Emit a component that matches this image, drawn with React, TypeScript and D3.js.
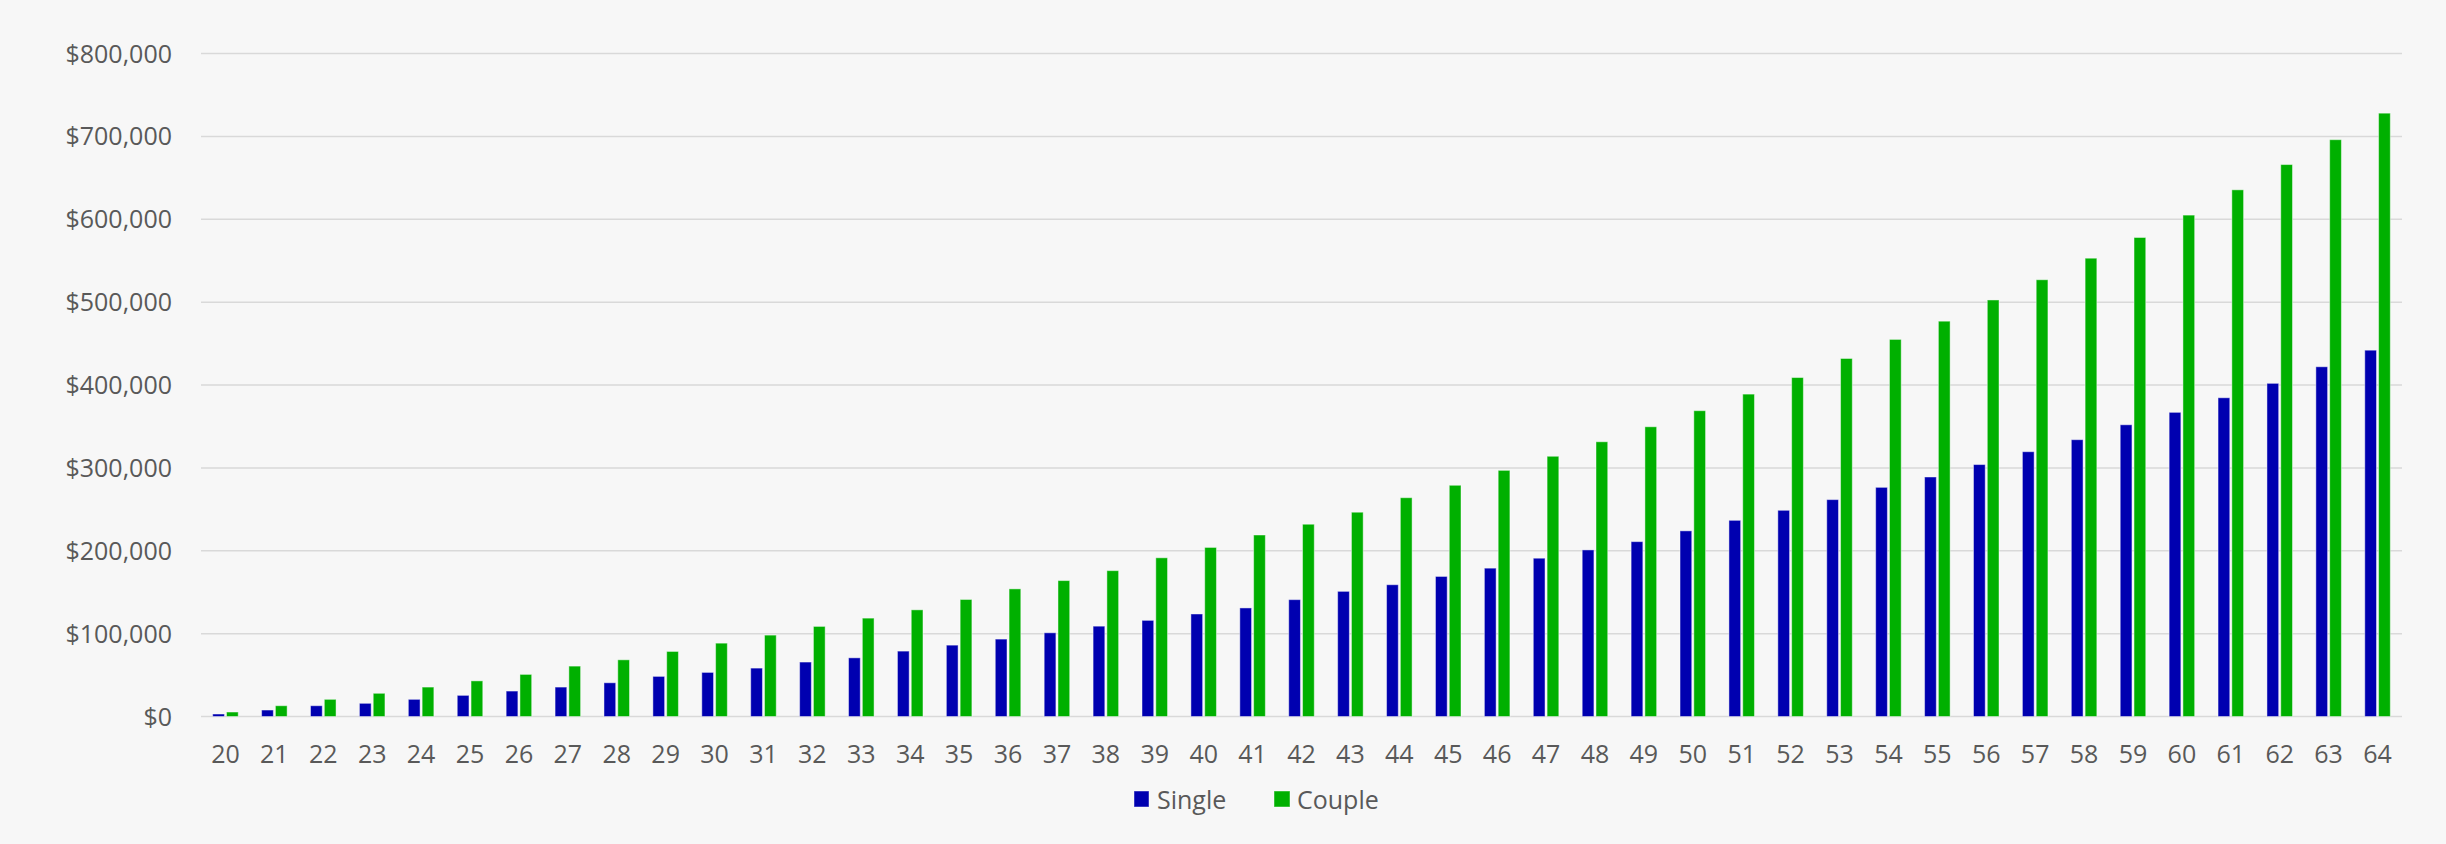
import React from "react";
import * as d3 from "d3";

const ages = [20,21,22,23,24,25,26,27,28,29,30,31,32,33,34,35,36,37,38,39,40,41,42,43,44,45,46,47,48,49,50,51,52,53,54,55,56,57,58,59,60,61,62,63,64];

const singleValues = [3000,7800,13000,15900,20700,25500,30700,35500,40700,48400,53200,58400,65700,70800,78900,86100,93400,101000,109000,116000,123700,131000,141000,151000,159000,169000,179000,191000,201000,211000,224000,236700,248800,261700,276500,289000,304000,319500,334000,352000,367000,384600,402000,422000,442000];

const coupleValues = [5400,13000,20700,28000,35500,43000,50800,60800,68400,78500,88500,98200,108700,118700,128700,141200,154000,164000,176000,191500,204000,219000,232000,246500,264000,279000,297000,314000,331500,349600,369000,389000,409000,432000,455000,477000,502600,527000,553000,578000,605000,635500,666000,696000,728000];

const seriesNames = ["Single", "Couple"];
const seriesColors = ["#0000b0", "#00b000"];
const yTicks = [0,100000,200000,300000,400000,500000,600000,700000,800000];

const W = 2446, H = 844;
const plotLeft = 201, plotRight = 2402, plotTop = 53.5, plotBottom = 716.5;
const FONT = "'Open Sans', sans-serif";
const TEXT = "#595959";

export default function App() {
  React.useEffect(() => { document.body.style.margin = "0"; }, []);
  const x0 = d3.scaleBand<number>().domain(ages).range([plotLeft, plotRight]).paddingInner(0.478).paddingOuter(0.239);
  const x1 = d3.scaleBand<string>().domain(seriesNames).range([0, x0.bandwidth()]).paddingInner(0.15);
  const y = d3.scaleLinear().domain([0, 800000]).range([plotBottom, plotTop]);
  const fmt = (v: number) => "$" + d3.format(",")(v);
  const seriesData = [singleValues, coupleValues];
  const step = x0.step();

  return (
    <svg width={W} height={H} style={{ position: "absolute", left: 0, top: 0, display: "block" }}>
      <rect x={0} y={0} width={W} height={H} fill="#f7f7f7" />
      {yTicks.map((t) => (
        <g key={t}>
          <line x1={plotLeft} x2={plotRight} y1={y(t)} y2={y(t)} stroke="#d9d9d9" strokeWidth={1.5} />
          <text x={172} y={y(t)} dy="0.36em" textAnchor="end" fontFamily={FONT} fontSize={25} fill={TEXT}>{fmt(t)}</text>
        </g>
      ))}
      {seriesNames.map((s, si) => (
        <g key={s}>
          {ages.map((a, i) => {
            const v = seriesData[si][i];
            const bx = (x0(a) as number) + (x1(s) as number);
            return (
              <rect key={a} x={bx} y={y(v)} width={x1.bandwidth()} height={plotBottom - y(v)}
                fill={seriesColors[si]} stroke="rgba(255,255,255,0.45)" strokeWidth={1} />
            );
          })}
        </g>
      ))}
      {ages.map((a) => (
        <text key={a} x={(x0(a) as number) + x0.bandwidth() / 2} y={763} textAnchor="middle" fontFamily={FONT} fontSize={25} fill={TEXT}>{a}</text>
      ))}
      <g>
        <rect x={1134} y={791} width={15} height={16} fill={seriesColors[0]} stroke="rgba(255,255,255,0.45)" />
        <text x={1157} y={809} fontFamily={FONT} fontSize={25} fill={TEXT}>{seriesNames[0]}</text>
        <rect x={1274} y={791} width={16} height={16} fill={seriesColors[1]} stroke="rgba(255,255,255,0.45)" />
        <text x={1297} y={809} fontFamily={FONT} fontSize={25} fill={TEXT}>{seriesNames[1]}</text>
      </g>
    </svg>
  );
}
